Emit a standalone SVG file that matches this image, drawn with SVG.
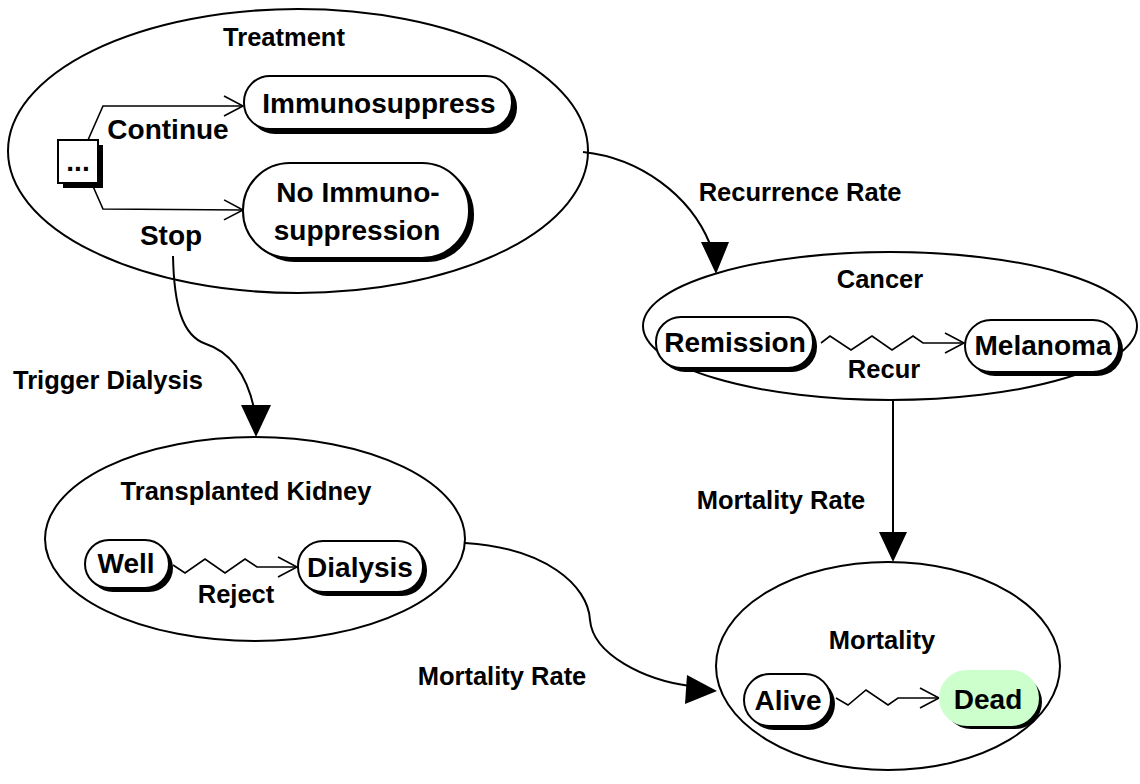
<svg xmlns="http://www.w3.org/2000/svg" width="1140" height="784" viewBox="0 0 1140 784">
  <defs>
    <marker id="open" viewBox="0 0 22 22" refX="20" refY="11" markerWidth="22" markerHeight="22" markerUnits="userSpaceOnUse" orient="auto">
      <path d="M1,1 L20,11 L1,21" fill="none" stroke="#000" stroke-width="1.6"/>
    </marker>
  </defs>
  <style>
    .frame { fill: #fff; stroke: #000; stroke-width: 2; }
    .pill { fill: #fff; stroke: #000; stroke-width: 2; }
    .shadow { fill: #000; stroke: none; }
    .edge { fill: none; stroke: #000; stroke-width: 2; }
    .thin { fill: none; stroke: #000; stroke-width: 1.6; }
    .head { fill: #000; stroke: none; }
    text { font-family: "Liberation Sans", Arial, sans-serif; font-weight: bold; fill: #000; text-anchor: middle; }
    .big { font-size: 28px; }
    .small { font-size: 25.5px; }
  </style>
  <rect width="1140" height="784" fill="#fff"/>

  <!-- Containers -->
  <g id="treatment">
    <ellipse class="frame" cx="298" cy="151" rx="290" ry="142"/>
    <text class="small" x="284" y="46">Treatment</text>
  </g>
  <g id="cancer">
    <ellipse class="frame" cx="890" cy="326" rx="247" ry="74"/>
    <text class="small" x="880" y="288">Cancer</text>
  </g>
  <g id="kidney">
    <ellipse class="frame" cx="255" cy="539" rx="210" ry="102"/>
    <text class="small" x="246" y="500">Transplanted Kidney</text>
  </g>
  <g id="mortality">
    <ellipse class="frame" cx="888" cy="666" rx="172" ry="104"/>
    <text class="small" x="882" y="649">Mortality</text>
  </g>

  <!-- Connectors -->
  <g id="connectors">
    <!-- decision branches -->
    <polyline class="thin" points="88,140 103,106 243,106" marker-end="url(#open)"/>
    <polyline class="thin" points="92,184 103,209 243,210" marker-end="url(#open)"/>
    <text class="big" x="168" y="139">Continue</text>
    <text class="big" x="171" y="245">Stop</text>

    <!-- Recurrence Rate -->
    <path class="edge" d="M583,152 C640,158 690,195 710,244"/>
    <polygon class="head" points="716,274 701,242 729,242"/>
    <text class="small" x="800" y="201">Recurrence Rate</text>

    <!-- Cancer to Mortality -->
    <line class="edge" x1="893" y1="400" x2="893" y2="534"/>
    <polygon class="head" points="893,562 879,532 907,532"/>
    <text class="small" x="781" y="509">Mortality Rate</text>

    <!-- Trigger Dialysis -->
    <path class="edge" d="M173,256 C174,305 182,336 206,344 C228,351 246,372 254,408"/>
    <polygon class="head" points="256,437 241,405 271,405"/>
    <text class="small" x="108" y="389">Trigger Dialysis</text>

    <!-- Kidney to Mortality -->
    <path class="edge" d="M465,543 C545,548 588,585 590,620 C593,655 645,680 690,686"/>
    <polygon class="head" points="717,691 687,675 685,704"/>
    <text class="small" x="502" y="685">Mortality Rate</text>

    <!-- state transitions -->
    <polyline class="thin" points="821,343 830,336 851,350 872,336 892,350 913,336 923,343 964,343" marker-end="url(#open)"/>
    <text class="small" x="884" y="378">Recur</text>
    <polyline class="thin" points="173,565 185,573 205,559 225,573 245,559 257,567 297,567" marker-end="url(#open)"/>
    <text class="small" x="236" y="603">Reject</text>
    <polyline class="thin" points="836,698 848,705 866,690 888,705 898,698 939,698" marker-end="url(#open)"/>
  </g>

  <!-- States -->
  <g id="decision">
    <rect class="shadow" x="63" y="145" width="40" height="43"/>
    <rect class="pill" x="58" y="140" width="40" height="43"/>
    <text class="big" x="78" y="171">...</text>
  </g>
  <g id="immunosuppress">
    <rect class="shadow" x="249" y="81" width="268" height="53" rx="26"/>
    <rect class="pill" x="244" y="76" width="268" height="53" rx="26"/>
    <text class="big" x="379" y="113">Immunosuppress</text>
  </g>
  <g id="no-immunosuppression">
    <rect class="shadow" x="248" y="167" width="226" height="95" rx="47"/>
    <rect class="pill" x="243" y="163" width="226" height="95" rx="47"/>
    <text class="big" x="358" y="202">No Immuno-</text>
    <text class="big" x="357" y="240">suppression</text>
  </g>
  <g id="remission">
    <rect class="shadow" x="660" y="321" width="157" height="51" rx="25"/>
    <rect class="pill" x="656" y="317" width="157" height="51" rx="25"/>
    <text class="big" x="735" y="352">Remission</text>
  </g>
  <g id="melanoma">
    <rect class="shadow" x="969" y="324" width="154" height="52" rx="26"/>
    <rect class="pill" x="965" y="320" width="154" height="52" rx="26"/>
    <text class="big" x="1043" y="355">Melanoma</text>
  </g>
  <g id="well">
    <rect class="shadow" x="89" y="544" width="84" height="48" rx="24"/>
    <rect class="pill" x="85" y="540" width="84" height="48" rx="24"/>
    <text class="big" x="126" y="573">Well</text>
  </g>
  <g id="dialysis">
    <rect class="shadow" x="302" y="545" width="125" height="51" rx="25"/>
    <rect class="pill" x="298" y="541" width="125" height="51" rx="25"/>
    <text class="big" x="360" y="577">Dialysis</text>
  </g>
  <g id="alive">
    <rect class="shadow" x="748" y="678" width="87" height="52" rx="26"/>
    <rect class="pill" x="744" y="674" width="87" height="52" rx="26"/>
    <text class="big" x="788" y="710">Alive</text>
  </g>
  <g id="dead">
    <rect class="shadow" x="944" y="675" width="98" height="54" rx="27"/>
    <rect class="pill" x="940" y="671" width="98" height="54" rx="27" style="fill:#ccffcc;stroke:#ccffcc"/>
    <text class="big" x="988" y="709">Dead</text>
  </g>
</svg>
